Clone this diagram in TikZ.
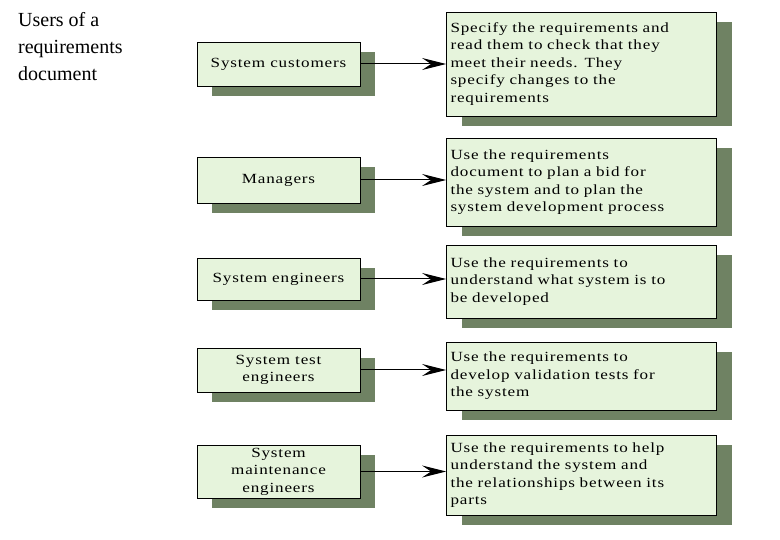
\documentclass[tikz,border=0pt]{standalone}
\usepackage{fontspec}
\setmainfont{Liberation Serif}
\newfontfamily\boxfont[LetterSpace=6,FakeStretch=1.22]{Liberation Serif}
\usetikzlibrary{shadows,arrows.meta}
\definecolor{boxfill}{HTML}{E6F4DC}
\definecolor{shad}{HTML}{6F8263}
\begin{document}
\begin{tikzpicture}[x=1pt,y=-1pt,
  box/.style={draw=black,line width=0.8pt,fill=boxfill,align=center,font=\boxfont\fontsize{14}{17.5}\selectfont,
    drop shadow={shadow xshift=15pt,shadow yshift=-10pt,fill=shad,opacity=1}},
  rbox/.style={box,align=left,text width=262pt,inner sep=4pt},
  arr/.style={line width=1pt,-{Stealth[length=24pt,width=12pt,inset=9pt]}}]
\useasboundingbox (0,0) rectangle (780,540);
\node[anchor=north west,align=left,font=\fontsize{20}{27}\selectfont,inner sep=0pt] (title) at (18,12) {Users of a\\requirements\\document};
% left boxes
\node[box,minimum width=163pt,minimum height=44pt,inner sep=1pt] (l1) at (278.5,64) {System customers};
\node[box,minimum width=163pt,minimum height=46pt] (l2) at (278.5,180) {Managers};
\node[box,minimum width=163pt,minimum height=42pt] (l3) at (278.5,279) {System engineers};
\node[box,minimum width=163pt,minimum height=44pt] (l4) at (278.5,370) {System test\\engineers};
\node[box,minimum width=163pt,minimum height=53pt,inner sep=2pt] (l5) at (278.5,471.5) {System\\maintenance\\engineers};
% right boxes
\node[rbox,minimum height=104pt] (r1) at (581.5,64) {Specify the requirements and\\read them to check that they\\meet their needs. They\\specify changes to the\\requirements};
\node[rbox,minimum height=88pt] (r2) at (581.5,182) {Use the requirements\\document to plan a bid for\\the system and to plan the\\system development process};
\node[rbox,minimum height=73pt] (r3) at (581.5,281.5) {Use the requirements to\\understand what system is to\\be developed\\[14pt]};
\node[rbox,minimum height=68pt] (r4) at (581.5,376) {Use the requirements to\\develop validation tests for\\the system\\[8pt]};
\node[rbox,minimum height=80pt] (r5) at (581.5,475) {Use the requirements to help\\understand the system and\\the relationships between its\\parts};
\foreach \i in {1,...,5}{\draw[arr] (l\i.east) -- (r\i.west |- l\i.east);}
\end{tikzpicture}
\end{document}
